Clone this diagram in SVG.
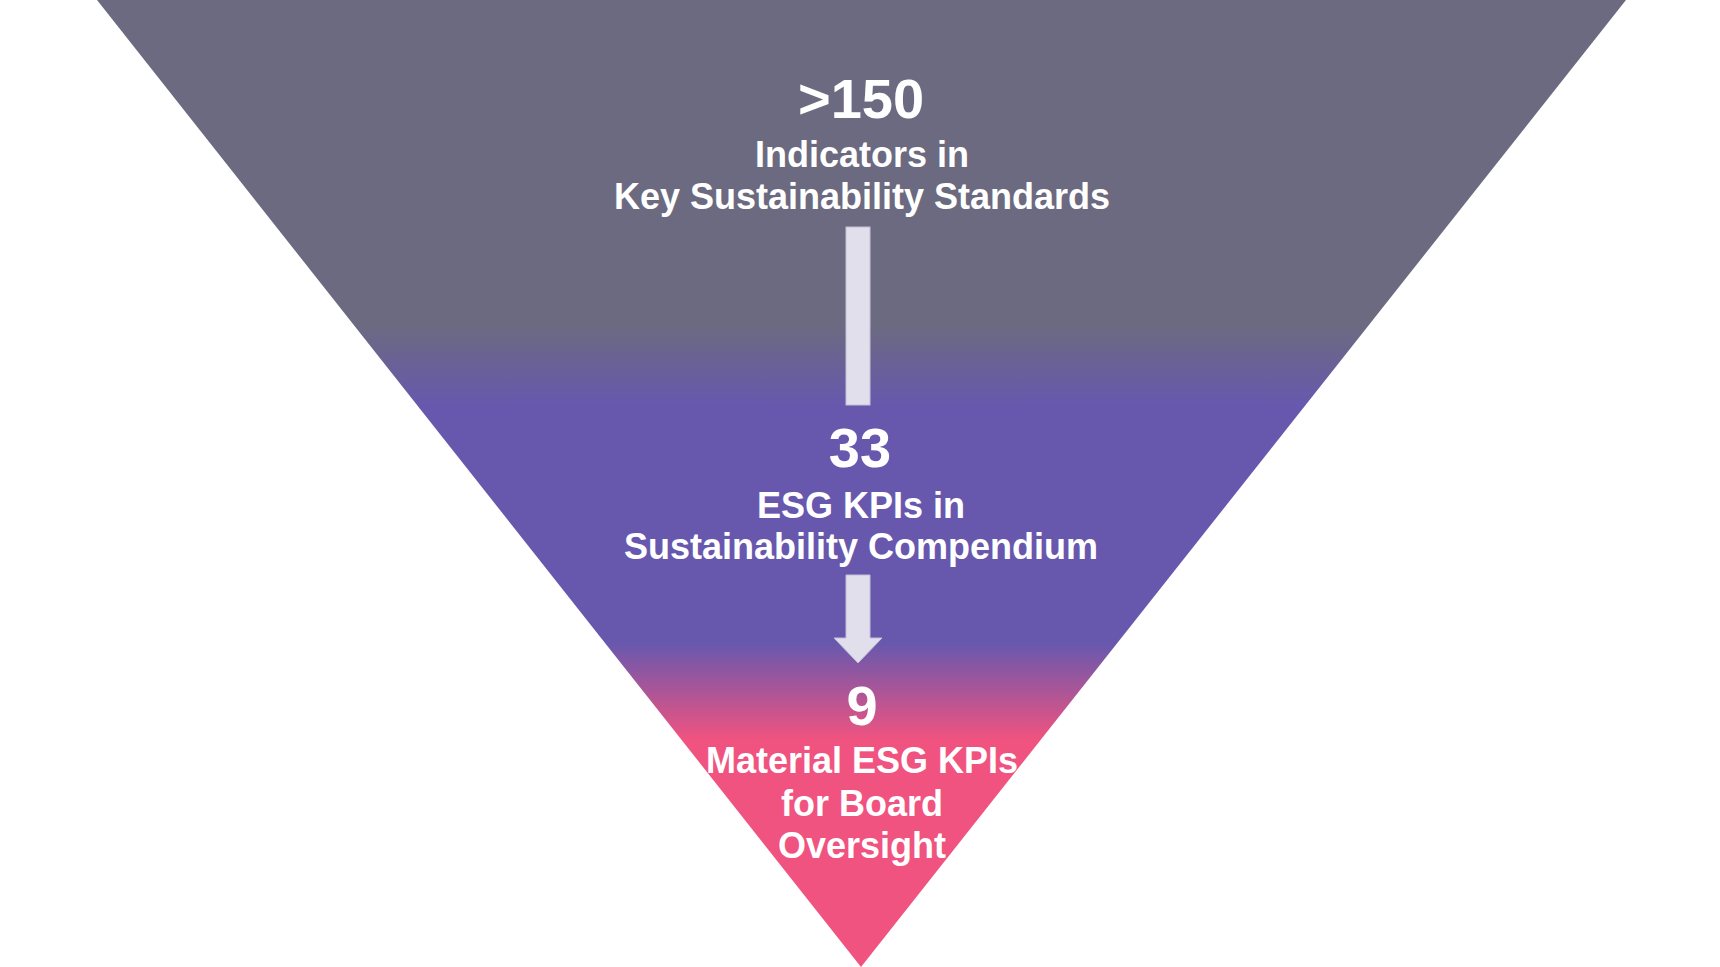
<svg xmlns="http://www.w3.org/2000/svg" width="1720" height="967" viewBox="0 0 1720 967">
  <defs>
    <linearGradient id="funnelGrad" gradientUnits="userSpaceOnUse" x1="0" y1="0" x2="0" y2="967">
      <stop offset="0" stop-color="#6C6A80"/>
      <stop offset="0.335" stop-color="#6C6A80"/>
      <stop offset="0.42" stop-color="#6758AE"/>
      <stop offset="0.665" stop-color="#6758AE"/>
      <stop offset="0.765" stop-color="#F05380"/>
      <stop offset="1" stop-color="#F05380"/>
    </linearGradient>
    <style>
      .num { font-family: "Liberation Sans", Arial, sans-serif; font-weight: bold; font-size: 56px; fill: #FFFFFF; text-anchor: middle; }
      .lbl { font-family: "Liberation Sans", Arial, sans-serif; font-weight: bold; font-size: 36px; fill: #FFFFFF; text-anchor: middle; }
      .arrow { fill: #E1DFEB; stroke: #C4BFD8; stroke-width: 1; }
    </style>
  </defs>
  <rect width="1720" height="967" fill="#FFFFFF"/>
  <g id="funnel">
    <polygon points="97,0 1626,0 861,967" fill="url(#funnelGrad)"/>
  </g>
  <g id="connectors">
    <rect class="arrow" x="846" y="227" width="24" height="178"/>
    <polygon class="arrow" points="846,575 870,575 870,638 882,638 858,663 834,638 846,638"/>
  </g>
  <g id="node-150">
    <text class="num" x="861" y="118">&gt;150</text>
    <text class="lbl" x="862" y="167">Indicators in</text>
    <text class="lbl" x="862" y="209">Key Sustainability Standards</text>
  </g>
  <g id="node-33">
    <text class="num" x="860" y="467">33</text>
    <text class="lbl" x="861" y="518">ESG KPIs in</text>
    <text class="lbl" x="861" y="559">Sustainability Compendium</text>
  </g>
  <g id="node-9">
    <text class="num" x="862" y="725">9</text>
    <text class="lbl" x="862" y="773">Material ESG KPIs</text>
    <text class="lbl" x="862" y="816">for Board</text>
    <text class="lbl" x="862" y="858">Oversight</text>
  </g>
</svg>
